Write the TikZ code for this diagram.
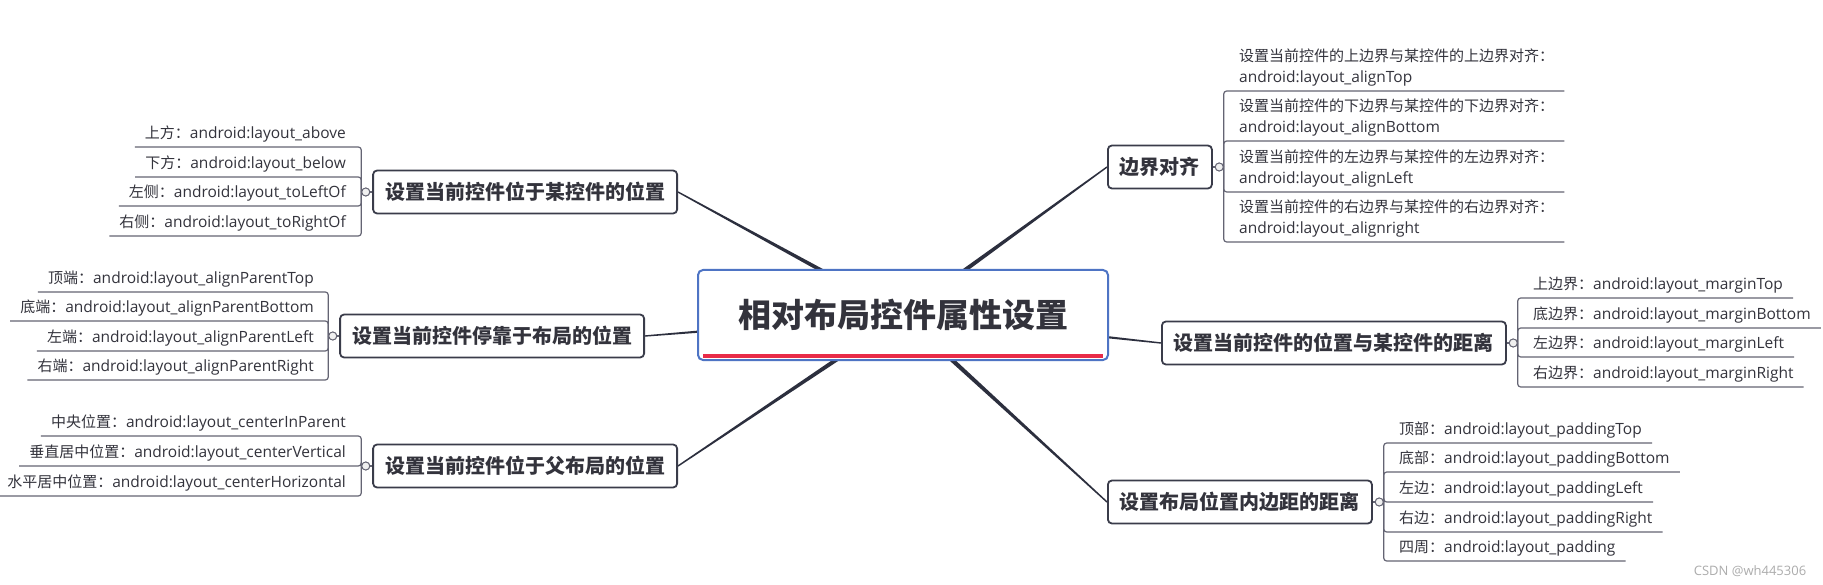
\documentclass[tikz,border=0pt]{standalone}
\usepackage{fontspec}
\setmainfont{Noto Sans CJK SC}
\newfontfamily\lat{Open Sans}
\usetikzlibrary{positioning,calc,backgrounds}
\definecolor{rootblue}{RGB}{78,116,196}
\definecolor{rootred}{RGB}{232,44,72}
\definecolor{linedark}{RGB}{44,47,62}
\definecolor{boxdark}{RGB}{58,60,74}
\definecolor{leafgray}{RGB}{100,100,115}
\definecolor{textdark}{RGB}{51,51,60}
\newcommand{\en}[1]{{\lat\fontsize{15.5}{21}\selectfont #1}}
\newcommand{\taper}[1]{\fill[linedark] ($(root.center)!2.6pt!90:(#1)$) -- ($(#1)!0.7pt!-90:(root.center)$) -- ($(#1)!0.7pt!90:(root.center)$) -- ($(root.center)!2.6pt!-90:(#1)$) -- cycle;}

\begin{document}
\begin{tikzpicture}[x=1pt, y=-1pt,
  every node/.style={text=textdark},
  rootbox/.style={draw=rootblue, line width=2pt, rounded corners=5pt, fill=white, minimum width=410pt, minimum height=90pt, font=\bfseries\fontsize{33}{40}\selectfont},
  branch/.style={draw=boxdark, line width=1.8pt, rounded corners=4pt, fill=white, inner xsep=12pt, minimum height=43pt, font=\bfseries\fontsize{20}{24}\selectfont},
  knob/.style={circle, draw=leafgray, fill=gray!12, line width=0.9pt, minimum size=8pt, inner sep=0pt},
  leaf/.style={inner xsep=10pt, inner ysep=4.5pt, align=left, font=\fontsize{15}{21}\selectfont},
  uline/.style={draw=leafgray, line width=1.2pt, rounded corners=3pt}
]
  \useasboundingbox (0,0) rectangle (1823,585);

  % centre and main topics
  \node[rootbox] (root) at (903,315) {相对布局控件属性设置};
  \draw[rootred, line width=4pt] ([xshift=6pt,yshift=5pt]root.south west) -- ([xshift=-6pt,yshift=5pt]root.south east);

  \node[branch, anchor=east] (pos) at (678,192) {设置当前控件位于某控件的位置};
  \node[branch, anchor=east] (par) at (645,336) {设置当前控件停靠于布局的位置};
  \node[branch, anchor=east] (ctr) at (678,466) {设置当前控件位于父布局的位置};
  \node[branch, anchor=west] (aln) at (1107,167) {边界对齐};
  \node[branch, anchor=west] (mrg) at (1161,343) {设置当前控件的位置与某控件的距离};
  \node[branch, anchor=west] (pad) at (1107,502) {设置布局位置内边距的距离};

  \node[knob, left=2pt of pos] (kpos) {};
  \node[knob, left=2pt of par] (kpar) {};
  \node[knob, left=2pt of ctr] (kctr) {};
  \node[knob, right=2pt of aln] (kaln) {};
  \node[knob, right=2pt of mrg] (kmrg) {};
  \node[knob, right=2pt of pad] (kpad) {};

  % leaves, left side
  \node[leaf, anchor=south east] (pos1) at (356,147) {上方：\en{android:layout\_above}};
  \node[leaf, anchor=south east] (pos2) at (356,177) {下方：\en{android:layout\_below}};
  \node[leaf, anchor=south east] (pos3) at (356,206) {左侧：\en{android:layout\_toLeftOf}};
  \node[leaf, anchor=south east] (pos4) at (356,236) {右侧：\en{android:layout\_toRightOf}};

  \node[leaf, anchor=south east] (par1) at (324,292) {顶端：\en{android:layout\_alignParentTop}};
  \node[leaf, anchor=south east] (par2) at (324,321) {底端：\en{android:layout\_alignParentBottom}};
  \node[leaf, anchor=south east] (par3) at (324,351) {左端：\en{android:layout\_alignParentLeft}};
  \node[leaf, anchor=south east] (par4) at (324,380) {右端：\en{android:layout\_alignParentRight}};

  \node[leaf, anchor=south east] (ctr1) at (356,436) {中央位置：\en{android:layout\_centerInParent}};
  \node[leaf, anchor=south east] (ctr2) at (356,466) {垂直居中位置：\en{android:layout\_centerVertical}};
  \node[leaf, anchor=south east] (ctr3) at (356,496) {水平居中位置：\en{android:layout\_centerHorizontal}};

  % leaves, right side
  \node[leaf, anchor=south west] (aln1) at (1229,91) {设置当前控件的上边界与某控件的上边界对齐：\\\en{android:layout\_alignTop}};
  \node[leaf, anchor=south west] (aln2) at (1229,141) {设置当前控件的下边界与某控件的下边界对齐：\\\en{android:layout\_alignBottom}};
  \node[leaf, anchor=south west] (aln3) at (1229,192) {设置当前控件的左边界与某控件的左边界对齐：\\\en{android:layout\_alignLeft}};
  \node[leaf, anchor=south west] (aln4) at (1229,242) {设置当前控件的右边界与某控件的右边界对齐：\\\en{android:layout\_alignright}};

  \node[leaf, anchor=south west] (mrg1) at (1523,298) {上边界：\en{android:layout\_marginTop}};
  \node[leaf, anchor=south west] (mrg2) at (1523,328) {底边界：\en{android:layout\_marginBottom}};
  \node[leaf, anchor=south west] (mrg3) at (1523,357) {左边界：\en{android:layout\_marginLeft}};
  \node[leaf, anchor=south west] (mrg4) at (1523,387) {右边界：\en{android:layout\_marginRight}};

  \node[leaf, anchor=south west] (pad1) at (1389,443) {顶部：\en{android:layout\_paddingTop}};
  \node[leaf, anchor=south west] (pad2) at (1389,472) {底部：\en{android:layout\_paddingBottom}};
  \node[leaf, anchor=south west] (pad3) at (1389,502) {左边：\en{android:layout\_paddingLeft}};
  \node[leaf, anchor=south west] (pad4) at (1389,532) {右边：\en{android:layout\_paddingRight}};
  \node[leaf, anchor=south west] (pad5) at (1389,561) {四周：\en{android:layout\_padding}};

  % underlines, each bending into its bracket
  \foreach \l in {pos1,pos2,pos3,pos4} \draw[uline] (\l.south west) -| (kpos.west);
  \foreach \l in {par1,par2,par3,par4} \draw[uline] (\l.south west) -| (kpar.west);
  \foreach \l in {ctr1,ctr2,ctr3} \draw[uline] (\l.south west) -| (kctr.west);
  \foreach \l in {aln1,aln2,aln3,aln4} \draw[uline] (\l.south east) -| (kaln.east);
  \foreach \l in {mrg1,mrg2,mrg3,mrg4} \draw[uline] (\l.south east) -| (kmrg.east);
  \foreach \l in {pad1,pad2,pad3,pad4,pad5} \draw[uline] (\l.south east) -| (kpad.east);

  \foreach \t in {pos,par,ctr,aln,mrg,pad} \draw[uline] (k\t) -- (\t);
  \node[knob] at (kpos) {};  \node[knob] at (kpar) {};  \node[knob] at (kctr) {};
  \node[knob] at (kaln) {};  \node[knob] at (kmrg) {};  \node[knob] at (kpad) {};

  \node[font=\lat\fontsize{13}{15}\selectfont, text=gray!65] (mark) at (1750,571) {CSDN @wh445306};

  % tapered connectors behind the centre
  \begin{scope}[on background layer]
    \fill[white] (0,0) rectangle (1823,585);
    \taper{pos.east} \taper{par.east} \taper{ctr.east}
    \taper{aln.west} \taper{mrg.west} \taper{pad.west}
  \end{scope}
\end{tikzpicture}
\end{document}
